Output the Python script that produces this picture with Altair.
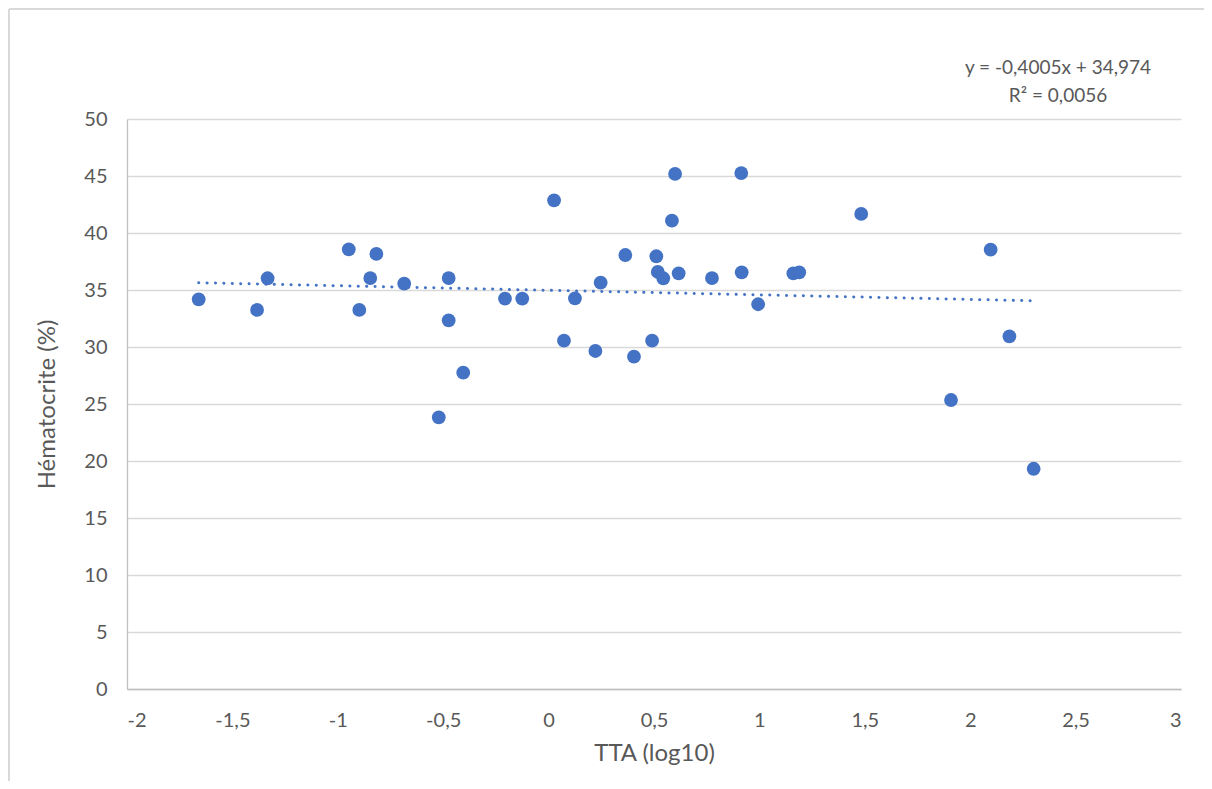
import altair as alt
import pandas as pd

# Data
tta_log10 = [-1.660, -1.383, -1.333, -0.948, -0.817, -0.846, -0.898, -0.685,
             -0.474, -0.474, -0.405, -0.521, -0.207, -0.125, 0.026, 0.073,
             0.125, 0.222, 0.247, 0.364, 0.405, 0.491, 0.511, 0.518, 0.544,
             0.617, 0.600, 0.585, 0.775, 0.914, 0.916, 0.994, 1.161, 1.189,
             1.483, 2.097, 2.186, 1.909, 2.301]
hematocrite = [34.18, 33.25, 36.03, 38.57, 38.16, 36.05, 33.25, 35.55,
               36.05, 32.34, 27.75, 23.83, 34.25, 34.25, 42.87, 30.55,
               34.27, 29.65, 35.64, 38.07, 29.15, 30.55, 37.96, 36.58, 36.03,
               36.46, 45.18, 41.08, 36.05, 45.26, 36.55, 33.75, 36.46, 36.55,
               41.67, 38.54, 30.94, 25.35, 19.32]

slope = -0.4005
intercept = 34.974
equation_line1 = ["y = -0,4005x + 34,974"]
equation_line2 = ["R² = 0,0056"]
x_ticks = [-2, -1.5, -1, -0.5, 0, 0.5, 1, 1.5, 2, 2.5, 3]
y_ticks = [0, 5, 10, 15, 20, 25, 30, 35, 40, 45, 50]

df = pd.DataFrame({"x": tta_log10, "y": hematocrite})
xmin, xmax = min(tta_log10), max(tta_log10)
trend = pd.DataFrame({"x": [xmin, xmax],
                      "y": [slope * xmin + intercept, slope * xmax + intercept]})

W, H = 1054, 570
FONT = "Lato"
GREY = "#595959"
BLUE = "#4472C4"
comma = "replace(toString(datum.value), '.', ',')"

xscale = alt.Scale(domain=[-2, 3], nice=False, zero=False)
yscale = alt.Scale(domain=[0, 50], nice=False)

xaxis = alt.Axis(values=x_ticks, labelExpr=comma, grid=False, ticks=False,
                 domainColor="#bfbfbf", domainWidth=1.3, labelPadding=21,
                 labelFontSize=20, labelColor=GREY, labelFont=FONT,
                 title="TTA (log10)", titleFontSize=24, titleColor=GREY,
                 titleFont=FONT, titleFontWeight="normal", titlePadding=11)
yaxis = alt.Axis(values=y_ticks, labelExpr=comma, grid=True, gridColor="#d9d9d9",
                 gridWidth=1.3, ticks=False, domainColor="#bfbfbf", domainWidth=1.3,
                 labelPadding=20, labelFontSize=20, labelColor=GREY, labelFont=FONT,
                 title="Hématocrite (%)", titleFontSize=24, titleColor=GREY,
                 titleFont=FONT, titleFontWeight="normal", titlePadding=24)

points = alt.Chart(df).mark_circle(size=190, color=BLUE, opacity=1).encode(
    x=alt.X("x:Q", scale=xscale, axis=xaxis),
    y=alt.Y("y:Q", scale=yscale, axis=yaxis),
)

line = alt.Chart(trend).mark_line(color=BLUE, strokeWidth=3, strokeCap="round",
                                  strokeDash=[0.1, 8.3]).encode(
    x=alt.X("x:Q", scale=xscale),
    y=alt.Y("y:Q", scale=yscale),
)

eq1 = alt.Chart(pd.DataFrame({"t": equation_line1})).mark_text(
    font=FONT, fontSize=19, color=GREY, align="center", baseline="middle").encode(
    x=alt.value(931), y=alt.value(-51), text="t:N")
eq2 = alt.Chart(pd.DataFrame({"t": equation_line2})).mark_text(
    font=FONT, fontSize=19, color=GREY, align="center", baseline="middle").encode(
    x=alt.value(931), y=alt.value(-23), text="t:N")

border_left = alt.Chart(df).mark_rule(color="#d9d9d9", strokeWidth=1.5).encode(
    x=alt.value(-118), y=alt.value(-110), y2=alt.value(H + 92))
border_top = alt.Chart(df).mark_rule(color="#d9d9d9", strokeWidth=1.5).encode(
    x=alt.value(-118), x2=alt.value(W + 23), y=alt.value(-110))

chart = alt.layer(border_left, border_top, line, points, eq1, eq2).properties(
    width=W, height=H,
    autosize=alt.AutoSizeParams(type="none"),
    padding={"left": 119, "top": 111, "right": 23, "bottom": 92},
).configure_view(stroke=None)

chart.save("out.html", embed_options={"renderer": "svg", "actions": False})
